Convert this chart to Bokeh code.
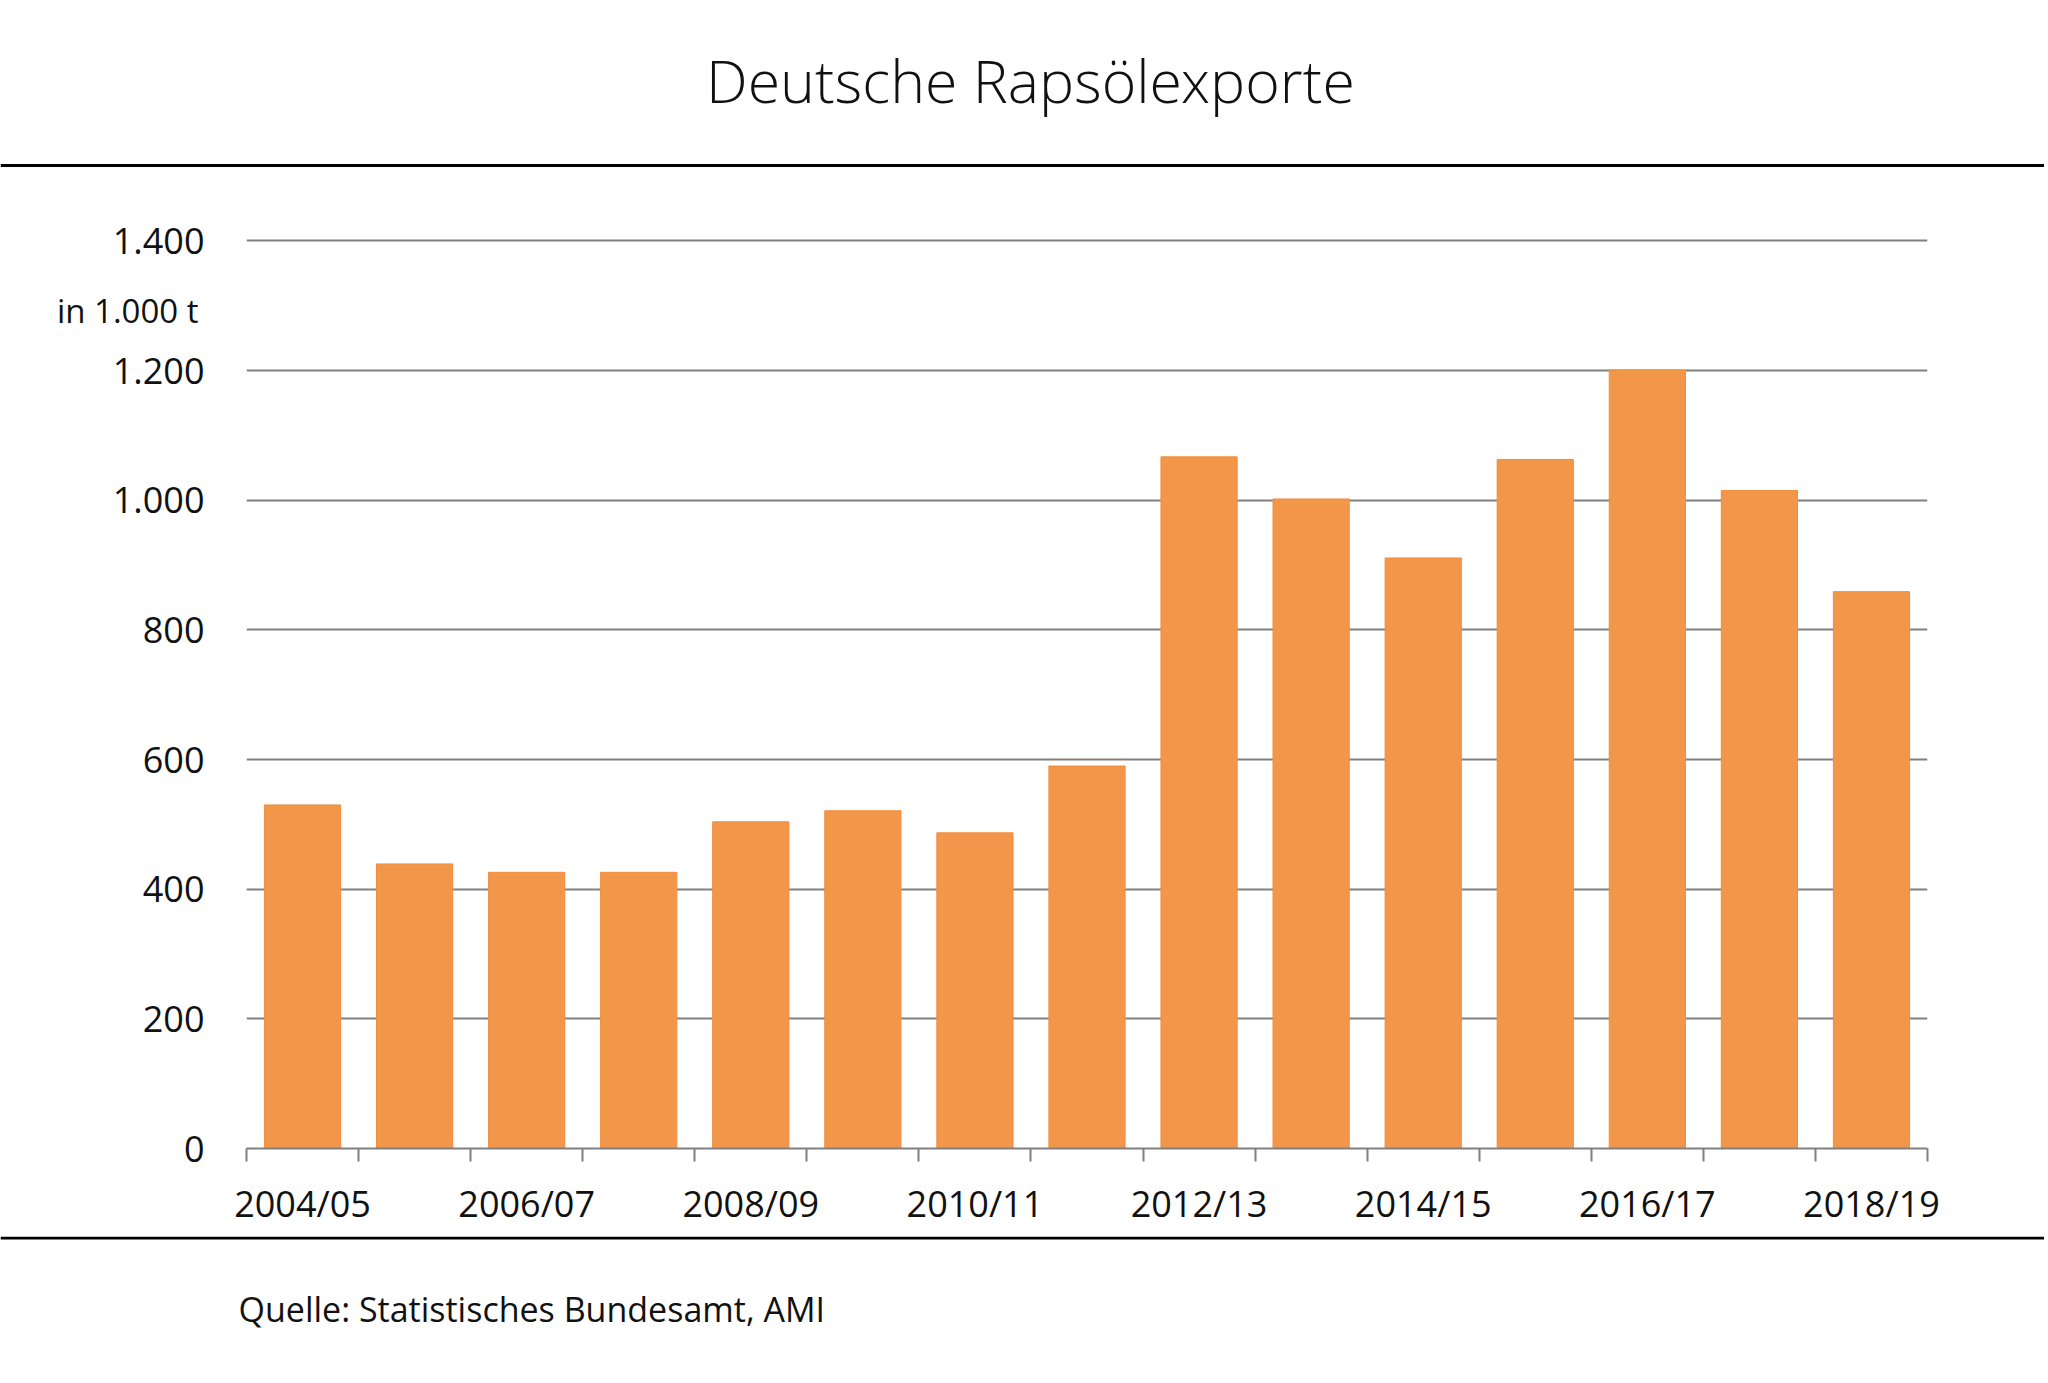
from bokeh.plotting import figure
from bokeh.models import Range1d, FixedTicker, Label, Span, LinearAxis
from bokeh.layouts import column
from bokeh.embed import file_html
from bokeh.resources import INLINE

# ---- data ----
seasons = ["2004/05", "2005/06", "2006/07", "2007/08", "2008/09", "2009/10", "2010/11",
           "2011/12", "2012/13", "2013/14", "2014/15", "2015/16", "2016/17", "2017/18", "2018/19"]
exports = [530, 439, 426, 426, 504, 521, 487, 590, 1067, 1002, 911, 1063, 1201, 1015, 859]
y_ticks = [0, 200, 400, 600, 800, 1000, 1200, 1400]
y_tick_labels = ["0", "200", "400", "600", "800", "1.000", "1.200", "1.400"]
title_text = "Deutsche Rapsölexporte"
unit_text = "in 1.000 t"
source_text = "Quelle: Statistisches Bundesamt, AMI"

FONT = "Open Sans"
TXT = "#111111"
GREY = "#808080"
BAR = "#F2974A"

W = 2044


def blank_fig(h):
    f = figure(width=W, height=h, output_backend="svg", toolbar_location=None, tools="",
               x_axis_type=None, y_axis_type=None,
               x_range=Range1d(0, W), y_range=Range1d(h, 0),
               min_border_left=0, min_border_right=0, min_border_top=0, min_border_bottom=0,
               frame_align=False)
    f.outline_line_color = None
    f.background_fill_color = "white"
    f.border_fill_color = "white"
    return f


# ---- top: title + rule ----
HA = 200
top = blank_fig(HA)
top.add_layout(Label(x=1030, y=79, text=title_text, text_align="center", text_baseline="alphabetic",
                     text_font="Open Sans Light", text_font_size="59px", text_color=TXT))
top.add_layout(Span(location=165, dimension="width", line_color="black", line_width=3))

# ---- chart ----
ML, MR, MT, MB = 246, W - 1927, 34, 88
FRAME_H = 914
HB = MT + FRAME_H + MB
p = figure(width=W, height=HB, output_backend="svg", toolbar_location=None, tools="",
           x_range=Range1d(-0.5, len(seasons) - 0.5), y_range=Range1d(0, 1410),
           min_border_left=ML, min_border_right=MR, min_border_top=MT, min_border_bottom=MB,
           frame_align=False)
p.outline_line_color = None
p.background_fill_color = "white"
p.border_fill_color = "white"

xs = list(range(len(seasons)))
p.vbar(x=xs, top=exports, bottom=0, width=0.68, fill_color=BAR, line_color="#F08C3C", line_width=1)

xa = p.xaxis[0]
xa.ticker = FixedTicker(ticks=xs[::2], minor_ticks=[i - 0.5 for i in range(len(seasons) + 1)])
xa.major_label_overrides = {i: seasons[i] for i in xs[::2]}
xa.major_tick_out = 0
xa.major_tick_in = 0
xa.minor_tick_out = 13
xa.minor_tick_in = 0
xa.minor_tick_line_color = GREY
xa.minor_tick_line_width = 2
xa.axis_line_color = GREY
xa.axis_line_width = 2
xa.major_label_standoff = 17
xa.major_label_text_font = FONT
xa.major_label_text_font_size = "36px"
xa.major_label_text_color = TXT

ya = p.yaxis[0]
ya.ticker = FixedTicker(ticks=y_ticks, minor_ticks=[])
ya.major_label_overrides = {t: l for t, l in zip(y_ticks, y_tick_labels)}
ya.axis_line_color = None
ya.major_tick_out = 0
ya.major_tick_in = 0
ya.minor_tick_out = 0
ya.minor_tick_in = 0
ya.major_label_standoff = 42
ya.major_label_text_font = FONT
ya.major_label_text_font_size = "36px"
ya.major_label_text_color = TXT

# unit caption as a second (label-only) left axis
unit_pos = 1293
ua = LinearAxis(ticker=FixedTicker(ticks=[unit_pos], minor_ticks=[]),
                major_label_overrides={unit_pos: unit_text},
                axis_line_color=None, major_tick_out=0, major_tick_in=0,
                minor_tick_out=0, minor_tick_in=0, major_label_standoff=-89,
                major_label_text_font=FONT, major_label_text_font_size="33px",
                major_label_text_color=TXT)
p.add_layout(ua, "left")

p.xgrid.grid_line_color = None
p.ygrid.grid_line_color = GREY
p.ygrid.grid_line_width = 2
p.ygrid.ticker = FixedTicker(ticks=y_ticks)

# ---- bottom: rule + source ----
HC = 1375 - HA - HB
bot = blank_fig(HC)
bot.add_layout(Span(location=1.5, dimension="width", line_color="black", line_width=3))
bot.add_layout(Label(x=238, y=72.7, text=source_text, text_align="left", text_baseline="alphabetic",
                     text_font=FONT, text_font_size="34px", text_color=TXT))

layout = column(top, p, bot, spacing=0)
open("out.html", "w").write(file_html(layout, INLINE))
